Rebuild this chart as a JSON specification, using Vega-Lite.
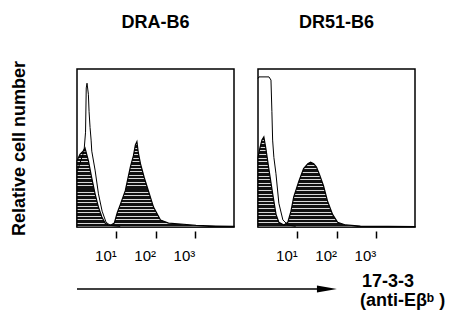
{
  "$schema": "https://vega.github.io/schema/vega-lite/v6.json",
  "padding": {"left": 10, "top": 14, "right": 0, "bottom": 0},
  "background": "white",
  "spacing": 0,
  "config": {
    "font": "Liberation Sans",
    "view": {"stroke": null},
    "header": {"title": null, "labelFont": "Liberation Sans", "labelFontSize": 18, "labelFontWeight": "bold", "labelColor": "black", "labelPadding": 36}
  },
  "datasets": {
    "hist": [
      {"sample": "DRA-B6", "series": "stained", "fl": 1, "count": 42},
      {"sample": "DRA-B6", "series": "stained", "fl": 1.19, "count": 46},
      {"sample": "DRA-B6", "series": "stained", "fl": 1.43, "count": 48},
      {"sample": "DRA-B6", "series": "stained", "fl": 1.6, "count": 50},
      {"sample": "DRA-B6", "series": "stained", "fl": 1.95, "count": 42},
      {"sample": "DRA-B6", "series": "stained", "fl": 2.38, "count": 31},
      {"sample": "DRA-B6", "series": "stained", "fl": 2.89, "count": 21},
      {"sample": "DRA-B6", "series": "stained", "fl": 3.52, "count": 12.6},
      {"sample": "DRA-B6", "series": "stained", "fl": 4.3, "count": 6.3},
      {"sample": "DRA-B6", "series": "stained", "fl": 5.2, "count": 2.5},
      {"sample": "DRA-B6", "series": "stained", "fl": 6.2, "count": 1.3},
      {"sample": "DRA-B6", "series": "stained", "fl": 7.4, "count": 1.3},
      {"sample": "DRA-B6", "series": "stained", "fl": 8.9, "count": 2.5},
      {"sample": "DRA-B6", "series": "stained", "fl": 10.6, "count": 9},
      {"sample": "DRA-B6", "series": "stained", "fl": 12.6, "count": 14},
      {"sample": "DRA-B6", "series": "stained", "fl": 17, "count": 23},
      {"sample": "DRA-B6", "series": "stained", "fl": 22.9, "count": 38},
      {"sample": "DRA-B6", "series": "stained", "fl": 27.3, "count": 45},
      {"sample": "DRA-B6", "series": "stained", "fl": 30.7, "count": 52},
      {"sample": "DRA-B6", "series": "stained", "fl": 33.6, "count": 54},
      {"sample": "DRA-B6", "series": "stained", "fl": 36.5, "count": 47},
      {"sample": "DRA-B6", "series": "stained", "fl": 41.5, "count": 40},
      {"sample": "DRA-B6", "series": "stained", "fl": 52, "count": 31},
      {"sample": "DRA-B6", "series": "stained", "fl": 62, "count": 25},
      {"sample": "DRA-B6", "series": "stained", "fl": 89, "count": 12.6},
      {"sample": "DRA-B6", "series": "stained", "fl": 134, "count": 4.4},
      {"sample": "DRA-B6", "series": "stained", "fl": 215, "count": 2.5},
      {"sample": "DRA-B6", "series": "stained", "fl": 437, "count": 1.9},
      {"sample": "DRA-B6", "series": "stained", "fl": 1072, "count": 1},
      {"sample": "DRA-B6", "series": "stained", "fl": 3467, "count": 0.6},
      {"sample": "DRA-B6", "series": "stained", "fl": 10000, "count": 0.4},
      {"sample": "DRA-B6", "series": "control", "fl": 1, "count": 35},
      {"sample": "DRA-B6", "series": "control", "fl": 1.51, "count": 48},
      {"sample": "DRA-B6", "series": "control", "fl": 1.65, "count": 60},
      {"sample": "DRA-B6", "series": "control", "fl": 1.72, "count": 88},
      {"sample": "DRA-B6", "series": "control", "fl": 1.8, "count": 91},
      {"sample": "DRA-B6", "series": "control", "fl": 1.95, "count": 84},
      {"sample": "DRA-B6", "series": "control", "fl": 2.03, "count": 73},
      {"sample": "DRA-B6", "series": "control", "fl": 2.15, "count": 63},
      {"sample": "DRA-B6", "series": "control", "fl": 2.29, "count": 55},
      {"sample": "DRA-B6", "series": "control", "fl": 2.38, "count": 48},
      {"sample": "DRA-B6", "series": "control", "fl": 2.89, "count": 36},
      {"sample": "DRA-B6", "series": "control", "fl": 3.52, "count": 21},
      {"sample": "DRA-B6", "series": "control", "fl": 4.37, "count": 10},
      {"sample": "DRA-B6", "series": "control", "fl": 5.5, "count": 3},
      {"sample": "DRA-B6", "series": "control", "fl": 7.06, "count": 1},
      {"sample": "DRA-B6", "series": "control", "fl": 12.6, "count": 0.4},
      {"sample": "DR51-B6", "series": "stained", "fl": 1, "count": 44},
      {"sample": "DR51-B6", "series": "stained", "fl": 1.12, "count": 50},
      {"sample": "DR51-B6", "series": "stained", "fl": 1.26, "count": 55},
      {"sample": "DR51-B6", "series": "stained", "fl": 1.41, "count": 57},
      {"sample": "DR51-B6", "series": "stained", "fl": 1.58, "count": 50},
      {"sample": "DR51-B6", "series": "stained", "fl": 1.91, "count": 36},
      {"sample": "DR51-B6", "series": "stained", "fl": 2.4, "count": 20},
      {"sample": "DR51-B6", "series": "stained", "fl": 2.88, "count": 8},
      {"sample": "DR51-B6", "series": "stained", "fl": 3.39, "count": 3},
      {"sample": "DR51-B6", "series": "stained", "fl": 4.57, "count": 1.3},
      {"sample": "DR51-B6", "series": "stained", "fl": 5.75, "count": 3},
      {"sample": "DR51-B6", "series": "stained", "fl": 6.92, "count": 10},
      {"sample": "DR51-B6", "series": "stained", "fl": 8.13, "count": 19},
      {"sample": "DR51-B6", "series": "stained", "fl": 11, "count": 29},
      {"sample": "DR51-B6", "series": "stained", "fl": 14.5, "count": 37},
      {"sample": "DR51-B6", "series": "stained", "fl": 18.6, "count": 40},
      {"sample": "DR51-B6", "series": "stained", "fl": 21.9, "count": 41},
      {"sample": "DR51-B6", "series": "stained", "fl": 26.3, "count": 40},
      {"sample": "DR51-B6", "series": "stained", "fl": 30.9, "count": 38},
      {"sample": "DR51-B6", "series": "stained", "fl": 37.2, "count": 33},
      {"sample": "DR51-B6", "series": "stained", "fl": 46.8, "count": 26},
      {"sample": "DR51-B6", "series": "stained", "fl": 58.9, "count": 16.5},
      {"sample": "DR51-B6", "series": "stained", "fl": 79.4, "count": 8},
      {"sample": "DR51-B6", "series": "stained", "fl": 107, "count": 3},
      {"sample": "DR51-B6", "series": "stained", "fl": 170, "count": 1.3},
      {"sample": "DR51-B6", "series": "stained", "fl": 407, "count": 0.6},
      {"sample": "DR51-B6", "series": "stained", "fl": 10000, "count": 0.3},
      {"sample": "DR51-B6", "series": "control", "fl": 1, "count": 94},
      {"sample": "DR51-B6", "series": "control", "fl": 1.06, "count": 95},
      {"sample": "DR51-B6", "series": "control", "fl": 1.9, "count": 95},
      {"sample": "DR51-B6", "series": "control", "fl": 2.14, "count": 93},
      {"sample": "DR51-B6", "series": "control", "fl": 2.26, "count": 73},
      {"sample": "DR51-B6", "series": "control", "fl": 2.36, "count": 55},
      {"sample": "DR51-B6", "series": "control", "fl": 2.54, "count": 44},
      {"sample": "DR51-B6", "series": "control", "fl": 2.86, "count": 34},
      {"sample": "DR51-B6", "series": "control", "fl": 3.4, "count": 15},
      {"sample": "DR51-B6", "series": "control", "fl": 4.3, "count": 4.5},
      {"sample": "DR51-B6", "series": "control", "fl": 5.75, "count": 1.3},
      {"sample": "DR51-B6", "series": "control", "fl": 9.1, "count": 0.4}
    ],
    "note": [
      {"kind": "shaft", "x": 0, "x2": 67, "y": 26},
      {"kind": "head", "x": 67, "y": 26},
      {"kind": "label", "x": 76.4, "y": 24, "text": "17-3-3"},
      {"kind": "label", "x": 75.9, "y": 43, "text": "(anti-Eβᵇ )"}
    ]
  },
  "vconcat": [
    {
      "data": {"name": "hist"},
      "facet": {"column": {"field": "sample", "type": "nominal", "sort": ["DRA-B6", "DR51-B6"]}},
      "spacing": 16,
      "spec": {
        "width": 157,
        "height": 158,
        "view": {"stroke": "black", "strokeWidth": 1.5},
        "encoding": {
          "x": {"field": "fl", "type": "quantitative", "scale": {"type": "log", "domain": [1, 10000], "nice": false},
            "axis": {"values": [10, 100, 1000], "labelExpr": "datum.value == 10 ? '10¹' : datum.value == 100 ? '10²' : '10³'", "domain": false, "grid": false, "ticks": true, "tickSize": 7, "tickWidth": 1.5, "tickColor": "black", "labelFontSize": 15, "labelColor": "black", "labelPadding": 10, "labelAlign": "right", "labelDx": 5, "labelFlush": false, "labelOverlap": false, "title": null}},
          "y": {"field": "count", "type": "quantitative", "scale": {"domain": [0, 100]},
            "axis": {"domain": false, "ticks": false, "labels": false, "grid": false, "title": "Relative cell number", "titleFontSize": 18, "titleFontWeight": "bold", "titleColor": "black", "titlePadding": 45}}
        },
        "layer": [
          {
            "transform": [{"filter": "datum.series == 'stained'"}],
            "mark": {"type": "area", "stroke": "black", "strokeWidth": 1.2, "fill": {"gradient": "linear", "x1": 0, "y1": 0, "x2": 0, "y2": 1, "stops": [
              {"offset": 0, "color": "#111111"}, {"offset": 0.029, "color": "#111111"}, {"offset": 0.029, "color": "#d8d8d8"}, {"offset": 0.04, "color": "#d8d8d8"},
              {"offset": 0.04, "color": "#111111"}, {"offset": 0.069, "color": "#111111"}, {"offset": 0.069, "color": "#d8d8d8"}, {"offset": 0.08, "color": "#d8d8d8"},
              {"offset": 0.08, "color": "#111111"}, {"offset": 0.109, "color": "#111111"}, {"offset": 0.109, "color": "#d8d8d8"}, {"offset": 0.12, "color": "#d8d8d8"},
              {"offset": 0.12, "color": "#111111"}, {"offset": 0.149, "color": "#111111"}, {"offset": 0.149, "color": "#d8d8d8"}, {"offset": 0.16, "color": "#d8d8d8"},
              {"offset": 0.16, "color": "#111111"}, {"offset": 0.189, "color": "#111111"}, {"offset": 0.189, "color": "#d8d8d8"}, {"offset": 0.2, "color": "#d8d8d8"},
              {"offset": 0.2, "color": "#111111"}, {"offset": 0.229, "color": "#111111"}, {"offset": 0.229, "color": "#d8d8d8"}, {"offset": 0.24, "color": "#d8d8d8"},
              {"offset": 0.24, "color": "#111111"}, {"offset": 0.269, "color": "#111111"}, {"offset": 0.269, "color": "#d8d8d8"}, {"offset": 0.28, "color": "#d8d8d8"},
              {"offset": 0.28, "color": "#111111"}, {"offset": 0.309, "color": "#111111"}, {"offset": 0.309, "color": "#d8d8d8"}, {"offset": 0.32, "color": "#d8d8d8"},
              {"offset": 0.32, "color": "#111111"}, {"offset": 0.349, "color": "#111111"}, {"offset": 0.349, "color": "#d8d8d8"}, {"offset": 0.36, "color": "#d8d8d8"},
              {"offset": 0.36, "color": "#111111"}, {"offset": 0.389, "color": "#111111"}, {"offset": 0.389, "color": "#d8d8d8"}, {"offset": 0.4, "color": "#d8d8d8"},
              {"offset": 0.4, "color": "#111111"}, {"offset": 0.429, "color": "#111111"}, {"offset": 0.429, "color": "#d8d8d8"}, {"offset": 0.44, "color": "#d8d8d8"},
              {"offset": 0.44, "color": "#111111"}, {"offset": 0.469, "color": "#111111"}, {"offset": 0.469, "color": "#d8d8d8"}, {"offset": 0.48, "color": "#d8d8d8"},
              {"offset": 0.48, "color": "#111111"}, {"offset": 0.509, "color": "#111111"}, {"offset": 0.509, "color": "#d8d8d8"}, {"offset": 0.52, "color": "#d8d8d8"},
              {"offset": 0.52, "color": "#111111"}, {"offset": 0.549, "color": "#111111"}, {"offset": 0.549, "color": "#d8d8d8"}, {"offset": 0.56, "color": "#d8d8d8"},
              {"offset": 0.56, "color": "#111111"}, {"offset": 0.589, "color": "#111111"}, {"offset": 0.589, "color": "#d8d8d8"}, {"offset": 0.6, "color": "#d8d8d8"},
              {"offset": 0.6, "color": "#111111"}, {"offset": 0.629, "color": "#111111"}, {"offset": 0.629, "color": "#d8d8d8"}, {"offset": 0.64, "color": "#d8d8d8"},
              {"offset": 0.64, "color": "#111111"}, {"offset": 0.669, "color": "#111111"}, {"offset": 0.669, "color": "#d8d8d8"}, {"offset": 0.68, "color": "#d8d8d8"},
              {"offset": 0.68, "color": "#111111"}, {"offset": 0.709, "color": "#111111"}, {"offset": 0.709, "color": "#d8d8d8"}, {"offset": 0.72, "color": "#d8d8d8"},
              {"offset": 0.72, "color": "#111111"}, {"offset": 0.749, "color": "#111111"}, {"offset": 0.749, "color": "#d8d8d8"}, {"offset": 0.76, "color": "#d8d8d8"},
              {"offset": 0.76, "color": "#111111"}, {"offset": 0.789, "color": "#111111"}, {"offset": 0.789, "color": "#d8d8d8"}, {"offset": 0.8, "color": "#d8d8d8"},
              {"offset": 0.8, "color": "#111111"}, {"offset": 0.829, "color": "#111111"}, {"offset": 0.829, "color": "#d8d8d8"}, {"offset": 0.84, "color": "#d8d8d8"},
              {"offset": 0.84, "color": "#111111"}, {"offset": 0.869, "color": "#111111"}, {"offset": 0.869, "color": "#d8d8d8"}, {"offset": 0.88, "color": "#d8d8d8"},
              {"offset": 0.88, "color": "#111111"}, {"offset": 0.909, "color": "#111111"}, {"offset": 0.909, "color": "#d8d8d8"}, {"offset": 0.92, "color": "#d8d8d8"},
              {"offset": 0.92, "color": "#111111"}, {"offset": 0.949, "color": "#111111"}, {"offset": 0.949, "color": "#d8d8d8"}, {"offset": 0.96, "color": "#d8d8d8"},
              {"offset": 0.96, "color": "#111111"}, {"offset": 0.989, "color": "#111111"}, {"offset": 0.989, "color": "#d8d8d8"}, {"offset": 1, "color": "#d8d8d8"}
            ]}}
          },
          {
            "transform": [{"filter": "datum.series == 'control'"}],
            "mark": {"type": "line", "color": "black", "strokeWidth": 1}
          }
        ]
      }
    },
    {
      "data": {"name": "note"},
      "width": 373,
      "height": 48,
      "layer": [
        {
          "transform": [{"filter": "datum.kind == 'shaft'"}],
          "mark": {"type": "rule", "color": "black", "strokeWidth": 1.5},
          "encoding": {
            "x": {"field": "x", "type": "quantitative", "scale": {"domain": [0, 100]}, "axis": null},
            "x2": {"field": "x2"},
            "y": {"field": "y", "type": "quantitative", "scale": {"domain": [0, 48], "reverse": true}, "axis": null}
          }
        },
        {
          "transform": [{"filter": "datum.kind == 'head'"}],
          "mark": {"type": "point", "shape": "M-1,-0.35L1,0L-1,0.35Z", "filled": true, "size": 400, "color": "black", "opacity": 1},
          "encoding": {
            "x": {"field": "x", "type": "quantitative", "scale": {"domain": [0, 100]}, "axis": null},
            "y": {"field": "y", "type": "quantitative", "scale": {"domain": [0, 48], "reverse": true}, "axis": null}
          }
        },
        {
          "transform": [{"filter": "datum.kind == 'label'"}],
          "mark": {"type": "text", "align": "left", "baseline": "alphabetic", "fontWeight": "bold", "fontSize": 18, "color": "black"},
          "encoding": {
            "x": {"field": "x", "type": "quantitative", "scale": {"domain": [0, 100]}, "axis": null},
            "y": {"field": "y", "type": "quantitative", "scale": {"domain": [0, 48], "reverse": true}, "axis": null},
            "text": {"field": "text"}
          }
        }
      ]
    }
  ]
}
